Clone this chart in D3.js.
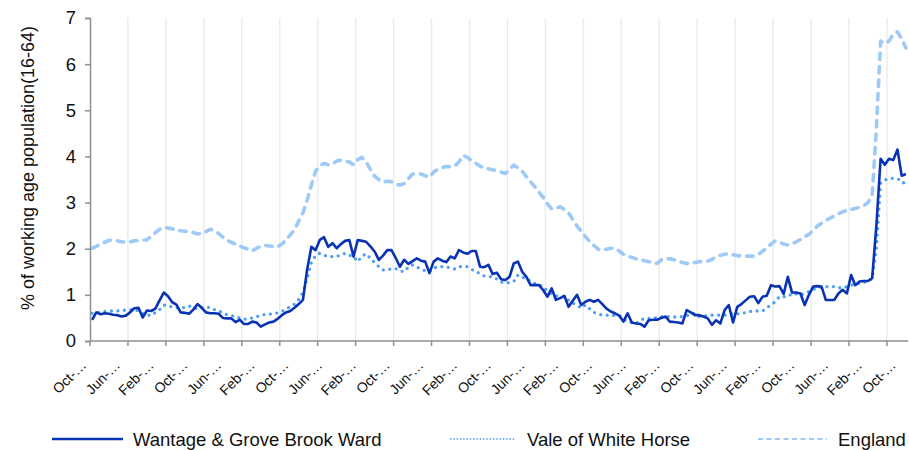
<!DOCTYPE html>
<html>
<head>
<meta charset="utf-8">
<script src="https://cdn.jsdelivr.net/npm/d3@7"></script>
<style>
	body { margin: 0; background: #fff; }
	svg { display: block; font-family: "Liberation Sans", Arial, sans-serif; }
</style>
</head>
<body>
<svg id="chart" width="909" height="450"></svg>
<script>
// monthly categories, Oct 2004 .. Nov 2020
var months = d3.timeMonth.range(new Date(2004, 9, 1), new Date(2020, 10, 2));

var wantage = [
	0.46, 0.62, 0.58, 0.60, 0.59, 0.57, 0.56, 0.53, 0.55, 0.62,
	0.71, 0.72, 0.51, 0.66, 0.65, 0.70, 0.88, 1.05, 0.97, 0.84,
	0.79, 0.62, 0.61, 0.59, 0.68, 0.80, 0.72, 0.62, 0.60, 0.60,
	0.59, 0.50, 0.49, 0.49, 0.41, 0.46, 0.37, 0.37, 0.42, 0.40,
	0.31, 0.36, 0.40, 0.42, 0.48, 0.56, 0.62, 0.65, 0.72, 0.80,
	0.89, 1.55, 2.04, 1.97, 2.19, 2.25, 2.04, 2.12, 2.01, 2.10,
	2.17, 2.19, 1.83, 2.19, 2.17, 2.15, 2.05, 1.94, 1.76, 1.85,
	1.97, 1.97, 1.80, 1.61, 1.76, 1.67, 1.73, 1.79, 1.74, 1.72,
	1.47, 1.72, 1.79, 1.74, 1.71, 1.83, 1.79, 1.97, 1.92, 1.89,
	1.95, 1.95, 1.61, 1.60, 1.65, 1.45, 1.48, 1.34, 1.32, 1.39,
	1.68, 1.72, 1.50, 1.39, 1.21, 1.21, 1.21, 1.10, 0.96, 1.14,
	0.89, 0.93, 0.98, 0.74, 0.87, 1.00, 0.78, 0.85, 0.89, 0.85,
	0.89, 0.80, 0.70, 0.64, 0.60, 0.55, 0.42, 0.60, 0.40, 0.38,
	0.37, 0.31, 0.45, 0.46, 0.46, 0.50, 0.53, 0.42, 0.41, 0.40,
	0.38, 0.67, 0.62, 0.56, 0.56, 0.53, 0.49, 0.35, 0.45, 0.38,
	0.67, 0.78, 0.40, 0.74, 0.80, 0.88, 0.96, 0.97, 0.82, 0.96,
	0.98, 1.21, 1.18, 1.19, 1.02, 1.39, 1.05, 1.05, 1.03, 0.78,
	1.00, 1.18, 1.19, 1.18, 0.89, 0.89, 0.89, 1.03, 1.11, 1.03,
	1.43, 1.21, 1.29, 1.30, 1.30, 1.36, 2.50, 3.95, 3.82, 3.95,
	3.92, 4.15, 3.58, 3.62
];

var vale = [
	0.60, 0.61, 0.63, 0.64, 0.65, 0.65, 0.65, 0.66, 0.67, 0.68,
	0.69, 0.65, 0.59, 0.57, 0.55, 0.62, 0.68, 0.78, 0.76, 0.74,
	0.72, 0.71, 0.73, 0.76, 0.72, 0.69, 0.72, 0.73, 0.73, 0.68,
	0.66, 0.60, 0.57, 0.55, 0.53, 0.50, 0.47, 0.48, 0.50, 0.53,
	0.55, 0.58, 0.58, 0.59, 0.61, 0.64, 0.70, 0.74, 0.80, 0.90,
	1.05, 1.35, 1.70, 1.85, 1.90, 1.86, 1.83, 1.83, 1.83, 1.87,
	1.90, 1.86, 1.83, 1.72, 1.84, 1.89, 1.79, 1.70, 1.61, 1.54,
	1.55, 1.56, 1.57, 1.52, 1.50, 1.60, 1.65, 1.60, 1.57, 1.52,
	1.50, 1.58, 1.61, 1.61, 1.61, 1.58, 1.56, 1.61, 1.61, 1.61,
	1.55, 1.52, 1.45, 1.41, 1.40, 1.39, 1.34, 1.28, 1.25, 1.27,
	1.29, 1.43, 1.38, 1.36, 1.28, 1.25, 1.21, 1.18, 1.07, 1.02,
	0.98, 0.96, 0.96, 0.88, 0.82, 0.78, 0.71, 0.78, 0.70, 0.62,
	0.59, 0.56, 0.56, 0.56, 0.55, 0.55, 0.48, 0.42, 0.40, 0.38,
	0.45, 0.49, 0.49, 0.49, 0.51, 0.53, 0.53, 0.53, 0.52, 0.52,
	0.53, 0.55, 0.58, 0.60, 0.53, 0.54, 0.55, 0.56, 0.56, 0.56,
	0.56, 0.58, 0.60, 0.59, 0.59, 0.62, 0.64, 0.65, 0.65, 0.65,
	0.72, 0.78, 0.85, 0.96, 0.96, 0.96, 1.03, 1.02, 1.00, 1.03,
	1.07, 1.12, 1.14, 1.17, 1.18, 1.18, 1.18, 1.16, 1.14, 1.18,
	1.21, 1.23, 1.25, 1.27, 1.29, 1.36, 2.00, 3.42, 3.49, 3.51,
	3.53, 3.51, 3.49, 3.36
];

var england = [
	2.01, 2.05, 2.10, 2.14, 2.18, 2.19, 2.17, 2.15, 2.14, 2.15,
	2.17, 2.18, 2.19, 2.19, 2.27, 2.35, 2.42, 2.46, 2.45, 2.43,
	2.41, 2.39, 2.38, 2.38, 2.35, 2.32, 2.33, 2.37, 2.42, 2.40,
	2.33, 2.25, 2.18, 2.14, 2.10, 2.06, 2.02, 1.99, 1.95, 2.01,
	2.05, 2.07, 2.06, 2.05, 2.04, 2.10, 2.19, 2.30, 2.41, 2.60,
	2.78, 3.05, 3.38, 3.68, 3.80, 3.85, 3.82, 3.84, 3.90, 3.92,
	3.90, 3.88, 3.82, 3.93, 3.98, 3.88, 3.72, 3.57, 3.50, 3.44,
	3.46, 3.45, 3.40, 3.38, 3.41, 3.52, 3.62, 3.62, 3.62, 3.58,
	3.55, 3.66, 3.72, 3.76, 3.78, 3.78, 3.79, 3.88, 4.02, 3.98,
	3.91, 3.85, 3.79, 3.75, 3.73, 3.71, 3.69, 3.66, 3.63, 3.72,
	3.81, 3.75, 3.68, 3.56, 3.45, 3.34, 3.22, 3.11, 2.97, 2.86,
	2.88, 2.91, 2.85, 2.78, 2.63, 2.49, 2.38, 2.26, 2.16, 2.07,
	1.99, 1.97, 1.99, 2.01, 2.01, 1.95, 1.88, 1.84, 1.81, 1.78,
	1.76, 1.74, 1.72, 1.70, 1.68, 1.76, 1.79, 1.78, 1.76, 1.73,
	1.70, 1.68, 1.69, 1.70, 1.72, 1.72, 1.73, 1.77, 1.82, 1.86,
	1.88, 1.89, 1.87, 1.85, 1.84, 1.84, 1.84, 1.84, 1.87, 1.95,
	2.01, 2.10, 2.17, 2.14, 2.10, 2.08, 2.11, 2.15, 2.20, 2.26,
	2.31, 2.40, 2.49, 2.55, 2.61, 2.66, 2.71, 2.76, 2.80, 2.83,
	2.85, 2.87, 2.90, 2.93, 3.00, 3.15, 4.60, 6.50, 6.45, 6.50,
	6.65, 6.70, 6.55, 6.35
];

var seriesNames = ["Wantage & Grove Brook Ward", "Vale of White Horse", "England"];
var yTicks = [0, 1, 2, 3, 4, 5, 6, 7];
var yTitle = "% of working age population(16-64)";
var labelEvery = 8;   // Oct, Jun, Feb ...
var tickEvery = 9;

document.addEventListener("DOMContentLoaded", init)

function init() {
	var svg = d3.select("#chart");
	var fmt = d3.timeFormat("%b");

	var x = d3.scaleBand()
		.domain(d3.range(months.length))
		.range([90, 908]);
	var bw = x.bandwidth();
	var y = d3.scaleLinear()
		.domain([0, 7])
		.range([341, 18]);

	var styles = [
		{ values: wantage, color: "#0a33b4", width: 2.6, dash: null, cap: "butt" },
		{ values: vale, color: "#4a9ff5", width: 3.3, dash: "0 6.5", cap: "round" },
		{ values: england, color: "#9fcaf8", width: 3.6, dash: "6.5 7", cap: "round" }
	];

	// vertical gridlines + x ticks every 9 months
	var tickIdx = d3.range(0, months.length, tickEvery);
	svg.append("g")
	   .selectAll("line")
	   .data(tickIdx.slice(1))
	   .enter()
	   .append("line")
	   .attr("x1", d=>x(d))
	   .attr("x2", d=>x(d))
	   .attr("y1", y(7))
	   .attr("y2", y(0))
	   .style("stroke", "#ececec")
	   .style("stroke-width", 1.5);

	// lines (England behind)
	var line = vals => d3.line()
		.x((d, i)=>x(i) + bw / 2)
		.y(d=>y(d))(vals);

	svg.append("g")
	   .selectAll("path")
	   .data(styles.slice().reverse())
	   .enter()
	   .append("path")
	   .attr("d", d=>line(d.values))
	   .style("fill", "none")
	   .style("stroke", d=>d.color)
	   .style("stroke-width", d=>d.width)
	   .style("stroke-dasharray", d=>d.dash)
	   .style("stroke-linecap", d=>d.cap)
	   .style("stroke-linejoin", "round");

	// axes
	var axisCol = "#8f8f8f";
	svg.append("line")
	   .attr("x1", 90).attr("x2", 908)
	   .attr("y1", y(0)).attr("y2", y(0))
	   .style("stroke", axisCol).style("stroke-width", 1.5);
	svg.append("g")
	   .selectAll("line")
	   .data(tickIdx)
	   .enter()
	   .append("line")
	   .attr("x1", d=>x(d)).attr("x2", d=>x(d))
	   .attr("y1", y(0)).attr("y2", y(0) + 5)
	   .style("stroke", axisCol).style("stroke-width", 1.5);

	var yAxis = svg.append("g")
		.attr("transform", "translate(90,0)")
		.call(d3.axisLeft(y).tickValues(yTicks).tickFormat(d3.format("d")).tickSize(5).tickPadding(9));
	yAxis.select(".domain").style("stroke", axisCol).style("stroke-width", 1.5);
	yAxis.selectAll(".tick line").style("stroke", axisCol).style("stroke-width", 1.5);
	yAxis.selectAll("text")
	     .style("font-size", "18.5px")
	     .style("font-family", "'Liberation Sans', Arial, sans-serif")
	     .style("fill", "#111");

	// x labels every 8 months, rotated
	var labelIdx = d3.range(0, months.length, labelEvery);
	svg.append("g")
	   .selectAll("text")
	   .data(labelIdx)
	   .enter()
	   .append("text")
	   .attr("transform", d=>"translate(" + (x(d) + bw / 2 - 5) + ",366) rotate(-45)")
	   .attr("text-anchor", "end")
	   .style("font-size", "14px")
	   .style("fill", "#111")
	   .text(d=>fmt(months[d]) + "-…");

	// y title
	svg.append("text")
	   .attr("transform", "translate(34,168) rotate(-90)")
	   .attr("text-anchor", "middle")
	   .style("font-size", "18px")
	   .style("fill", "#111")
	   .text(yTitle);

	// legend
	var legendPos = [
		{ x1: 52, x2: 123, tx: 133 },
		{ x1: 450, x2: 515, tx: 527 },
		{ x1: 758, x2: 827, tx: 838 }
	];
	var leg = svg.append("g")
		.selectAll("g")
		.data(seriesNames)
		.enter()
		.append("g");
	leg.append("line")
	   .attr("x1", (d, i)=>legendPos[i].x1)
	   .attr("x2", (d, i)=>legendPos[i].x2)
	   .attr("y1", 439).attr("y2", 439)
	   .style("stroke", (d, i)=>styles[i].color)
	   .style("stroke-width", (d, i)=>i == 1 ? 1.5 : i == 2 ? 2.2 : 2.4)
	   .style("stroke-dasharray", (d, i)=>i == 1 ? "1.5 1.8" : i == 2 ? "5 3.5" : null);
	leg.append("text")
	   .attr("x", (d, i)=>legendPos[i].tx)
	   .attr("y", 445.5)
	   .style("font-size", "18.5px")
	   .style("fill", "#111")
	   .text(d=>d);
}
</script>
</body>
</html>
